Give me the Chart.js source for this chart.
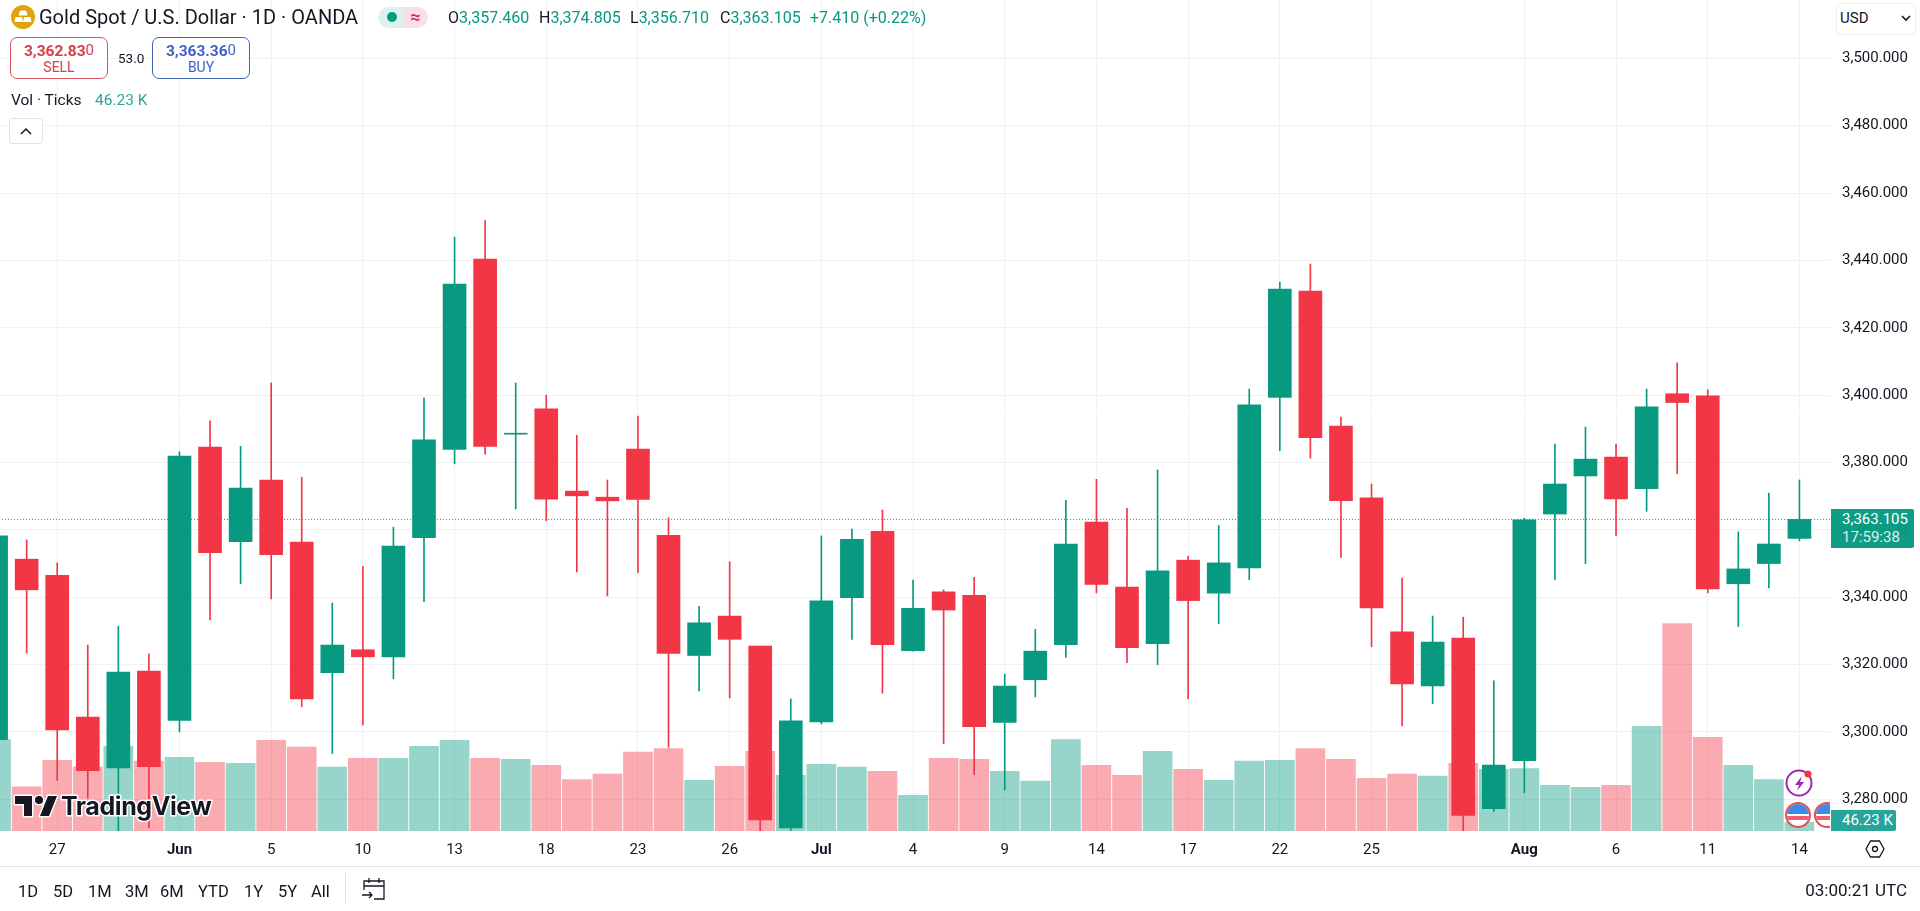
<!DOCTYPE html>
<html>
<head>
<meta charset="utf-8">
<title>Gold Spot / U.S. Dollar</title>
<script src="https://cdn.jsdelivr.net/npm/chart.js@4"></script>
<style>
  html, body { margin: 0; padding: 0; background: #fff; overflow: hidden; }
  body { width: 1920px; height: 911px; position: relative; font-family: Roboto, sans-serif; color: #131722; }
  #wrap { position: absolute; left: 0; top: 0; width: 1920px; height: 911px; }
  .abs { position: absolute; white-space: nowrap; }
  .up { color: #089981; }
  .trade { position: absolute; top: 37px; height: 40px; width: 96px; border: 1px solid; border-radius: 7px; text-align: center; background: #fff; }
  .trade b { display: block; font-size: 15.5px; line-height: 16px; margin-top: 4px; }
  .trade b span { font-weight: 400; font-size: 15px; vertical-align: 1px; }
  .trade i { display: block; font-style: normal; font-size: 14px; line-height: 16px; margin-top: 0; }
  .sell { left: 10px; border-color: #d9505f; color: #d63f4e; }
  .buy { left: 152px; border-color: #3d66ad; color: #3f5fc8; }
  .range span { position: absolute; top: 0; }
  .ohlc { top: 8px; font-size: 16px; line-height: 19px; }
</style>
</head>
<body>
<div id="wrap"><canvas id="chart" width="1920" height="911"></canvas></div>

<!-- legend block -->
<svg class="abs" style="left:11px;top:5px" width="24" height="24" viewBox="0 0 24 24">
  <circle cx="12" cy="12" r="12" fill="#dfa30e"/>
  <path d="M9 5.500h6l1.500 5h-9zM4.500 12h6.500l1 5H3.500zM13 12h6.500l1 5H12z" fill="#fff"/>
</svg>
<div class="abs" style="left:39px;top:6px;font-size:20px;line-height:23px">Gold Spot / U.S. Dollar · 1D · OANDA</div>
<div class="abs" style="left:378px;top:7px;width:25px;height:21px;background:#dcf2ee;border-radius:11px 0 0 11px"></div>
<div class="abs" style="left:403px;top:7px;width:25px;height:21px;background:#fbdfe6;border-radius:0 11px 11px 0;color:#e0245e;font-size:18px;line-height:20px;text-align:center;font-weight:700">≈</div>
<div class="abs" style="left:387px;top:12px;width:10px;height:10px;background:#089981;border-radius:50%"></div>
<div class="abs ohlc" style="left:448px">O<span class="up">3,357.460</span></div>
<div class="abs ohlc" style="left:539px">H<span class="up">3,374.805</span></div>
<div class="abs ohlc" style="left:630px">L<span class="up">3,356.710</span></div>
<div class="abs ohlc" style="left:720px">C<span class="up">3,363.105</span></div>
<div class="abs ohlc up" style="left:810px">+7.410 (+0.22%)</div>

<div class="trade sell"><b>3,362.83<span>0</span></b><i>SELL</i></div>
<div class="abs" style="left:118px;top:50px;font-size:13.5px;line-height:16px">53.0</div>
<div class="trade buy"><b>3,363.36<span>0</span></b><i>BUY</i></div>

<div class="abs" style="left:11px;top:91px;font-size:15.5px;line-height:18px">Vol · Ticks</div>
<div class="abs up" style="left:95px;top:91px;font-size:15.5px;line-height:18px;opacity:.85">46.23 K</div>
<div class="abs" style="left:9px;top:118px;width:32px;height:24px;border:1px solid #e0e3eb;border-radius:3px;background:#fff">
  <svg width="32" height="24"><path d="M11 15l5-5 5 5" fill="none" stroke="#131722" stroke-width="1.5"/></svg>
</div>

<!-- currency select -->
<div class="abs" style="left:1836px;top:3px;width:78px;height:30px;border:1px solid #eceef2;border-radius:5px;background:#fff"></div>
<div class="abs" style="left:1840px;top:9px;font-size:15px;line-height:18px">USD</div>
<svg class="abs" style="left:1901px;top:15px" width="10" height="7"><path d="M1 1l4 4 4-4" fill="none" stroke="#131722" stroke-width="1.6"/></svg>

<!-- last price and volume tags -->
<div class="abs" style="left:1831px;top:509px;width:83px;height:39px;background:#089981;border-radius:0 2px 2px 0;color:#fff;font-size:15px;line-height:18px;box-sizing:border-box;padding:1px 0 0 11px;opacity:.97">3,363.105<br><span style="opacity:.85">17:59:38</span></div>
<div class="abs" style="left:1831px;top:810px;width:65px;height:21px;background:#26a69a;border-radius:0 2px 2px 0;color:#fff;font-size:15px;line-height:21px;padding-left:11px;box-sizing:border-box">46.23 K</div>

<!-- event markers -->
<svg class="abs" style="left:1784px;top:768px" width="46" height="62" viewBox="0 0 46 62">
  <circle cx="15" cy="15" r="12.500" fill="#fff" stroke="#9c27b0" stroke-width="2"/>
  <path d="M18 8l-7 9h4l-2 6 7-9h-4z" fill="#9c27b0"/>
  <circle cx="24" cy="6" r="3.500" fill="#f23645"/>
  <defs>
    <clipPath id="flag1"><circle cx="14" cy="47" r="11"/></clipPath>
    <clipPath id="flag2"><circle cx="43" cy="47" r="11"/></clipPath>
  </defs>
  <g clip-path="url(#flag1)"><rect x="2" y="36" width="24" height="22" fill="#fff"/><rect x="2" y="36" width="24" height="10" fill="#3d8be8"/><rect x="2" y="48" width="24" height="4" fill="#f0606a"/></g>
  <circle cx="14" cy="47" r="12" fill="none" stroke="#e2505c" stroke-width="2"/>
  <g clip-path="url(#flag2)"><rect x="31" y="36" width="24" height="22" fill="#fff"/><rect x="31" y="36" width="24" height="10" fill="#3d8be8"/><rect x="31" y="48" width="24" height="4" fill="#f0606a"/></g>
  <circle cx="43" cy="47" r="12" fill="none" stroke="#e2505c" stroke-width="2"/>
</svg>

<!-- watermark -->
<svg class="abs" style="left:12px;top:790px" width="210" height="32" viewBox="0 0 210 32">
  <g stroke="#fff" stroke-width="3" paint-order="stroke" stroke-linejoin="round">
    <path d="M3 6h17v20h-8V14H3z" fill="#131722"/>
    <circle cx="27" cy="10" r="4" fill="#131722"/>
    <path d="M36 6h9l-8 20h-9z" fill="#131722"/>
    <text x="49" y="25" font-family="Inter, Roboto, sans-serif" font-weight="700" font-size="25" letter-spacing="-.4" fill="#131722">TradingView</text>
  </g>
</svg>

<!-- bottom bar -->
<div class="abs" style="left:0;top:866px;width:1920px;height:1px;background:#e0e3eb"></div>
<div class="abs range" style="left:0;top:883px;width:345px;height:18px;font-size:16.5px;line-height:18px">
  <span style="left:18px">1D</span><span style="left:53px">5D</span><span style="left:88px">1M</span><span style="left:125px">3M</span><span style="left:160px">6M</span><span style="left:198px">YTD</span><span style="left:244px">1Y</span><span style="left:278px">5Y</span><span style="left:311px">All</span>
</div>
<div class="abs" style="left:345px;top:873px;width:1px;height:30px;background:#e0e3eb"></div>
<svg class="abs" style="left:361px;top:877px" width="26" height="25" viewBox="0 0 26 25">
  <path d="M3 13V4h20v18H13M3 9h20M8 1v5M18 1v5M1 18h10M8 15l3 3-3 3" fill="none" stroke="#131722" stroke-width="1.300"/>
</svg>
<div class="abs" style="right:13px;top:880px;font-size:17px;line-height:20px">03:00:21 UTC</div>
<svg class="abs" style="left:1865px;top:839px" width="20" height="20" viewBox="0 0 20 20">
  <path d="M5.500 2h9L19 10l-4.500 8h-9L1 10z" fill="none" stroke="#131722" stroke-width="1.300"/>
  <circle cx="10" cy="10" r="2.500" fill="none" stroke="#131722" stroke-width="1.300"/>
</svg>

<script>
// Daily bars
const categories = ['May 23','May 26','May 27','May 28','May 29','May 30','Jun 2','Jun 3','Jun 4','Jun 5','Jun 6','Jun 9','Jun 10','Jun 11','Jun 12','Jun 13','Jun 16','Jun 17','Jun 18','Jun 19','Jun 20','Jun 23','Jun 24','Jun 25','Jun 26','Jun 27','Jun 30','Jul 1','Jul 2','Jul 3','Jul 4','Jul 7','Jul 8','Jul 9','Jul 10','Jul 11','Jul 14','Jul 15','Jul 16','Jul 17','Jul 18','Jul 21','Jul 22','Jul 23','Jul 24','Jul 25','Jul 28','Jul 29','Jul 30','Jul 31','Aug 1','Aug 4','Aug 5','Aug 6','Aug 7','Aug 8','Aug 11','Aug 12','Aug 13','Aug 14'];
const opens = [3297.7,3351.3,3346.5,3304.4,3289.3,3318.1,3303.4,3384.6,3356.5,3374.8,3356.4,3317.6,3324.4,3322.3,3357.7,3383.9,3440.4,3388.4,3395.9,3371.5,3369.7,3384,3358.4,3322.7,3334.4,3325.5,3271.5,3303,3339.9,3359.6,3324.1,3341.6,3340.6,3302.8,3315.5,3325.9,3362.3,3343,3326.2,3351,3341.2,3348.7,3399.3,3430.9,3390.8,3369.5,3329.7,3313.7,3327.9,3277.2,3291.5,3364.7,3376,3381.6,3372.2,3400.4,3399.8,3344,3350,3357.46];
const highs = [3358.6,3357,3350.2,3325.8,3331.4,3323.2,3383.2,3392.4,3384.8,3403.6,3375.6,3338.3,3349.2,3360.8,3399.2,3446.9,3451.8,3403.6,3400,3388.1,3374.8,3393.8,3363.6,3337.3,3350.5,3325.5,3309.8,3358.2,3360.2,3365.9,3345.1,3342.2,3345.9,3317.2,3330.5,3368.8,3375,3366.4,3377.8,3352.2,3361.3,3401.8,3433.5,3438.9,3393.5,3373.6,3345.7,3334.4,3334.1,3315.2,3363.4,3385.5,3390.5,3385.5,3401.8,3409.6,3401.6,3359.4,3370.9,3374.805];
const lows = [3296,3323.4,3285.6,3280.4,3270,3271.5,3300,3333.3,3344,3339.5,3307.5,3293.6,3302.1,3315.8,3338.7,3379.6,3382.5,3366.2,3362.7,3347.5,3340.4,3347.3,3295.5,3312.2,3310.1,3268,3270,3302.4,3327.5,3311.5,3324,3296.5,3287.3,3282.8,3310.4,3322.1,3341.3,3320.6,3320,3309.8,3332.1,3345.2,3383.5,3381.3,3351.8,3325.3,3301.8,3308.4,3268,3276.4,3282,3345.2,3350,3358.3,3365.5,3376.7,3341.3,3331.3,3342.8,3356.71];
const closes = [3358.2,3342.2,3300.6,3288.5,3317.8,3289.7,3381.9,3353.2,3372.4,3352.6,3309.8,3325.8,3322.3,3355.2,3386.7,3433,3384.8,3388.4,3369.1,3370.1,3368.6,3369,3323.3,3332.4,3327.5,3273.9,3303.3,3338.9,3357.2,3325.9,3336.7,3336.2,3301.6,3313.6,3324,3355.8,3343.8,3325,3347.8,3339,3350.2,3397.1,3431.5,3387.4,3368.7,3336.8,3314.3,3326.7,3275.2,3290.2,3363,3373.6,3381,3369.2,3396.5,3397.8,3342.5,3348.4,3355.8,3363.105];
const volumes = [486,234,375,341,449,371,391,365,360,482,445,339,386,386,449,482,386,380,349,273,302,419,438,269,343,423,295,354,339,317,189,386,380,317,265,486,349,295,423,328,269,371,375,438,380,280,302,291,360,328,332,243,232,243,556,1102,497,349,273,46.23];
const lastPrice = 3363.105;

const xTickDates = ['May 27','Jun 2','Jun 5','Jun 10','Jun 13','Jun 18','Jun 23','Jun 26','Jul 1','Jul 4','Jul 9','Jul 14','Jul 17','Jul 22','Jul 25','Aug 1','Aug 6','Aug 11','Aug 14'];
const xTickLabels = ['27','Jun','5','10','13','18','23','26','Jul','4','9','14','17','22','25','Aug','6','11','14'];
const monthLabels = ['Jun','Jul','Aug'];

const GREEN = '#089981';
const RED = '#f23645';
const barColor = categories.map((c, i) => closes[i] >= opens[i] ? GREEN : RED);
const volColor = categories.map((c, i) => closes[i] >= opens[i] ? 'rgba(8,153,129,0.42)' : 'rgba(242,54,69,0.42)');
const xTickIndex = xTickDates.map(d => categories.indexOf(d));

// chart.js pads the edge labels by default, the pane has to run to the canvas edge
function noPadding(scale) {
  scale.paddingLeft = 0;
  scale.paddingRight = 0;
  scale.paddingTop = 0;
  scale.paddingBottom = 0;
}

new Chart(document.getElementById('chart'), {
  data: {
    datasets: [
      {
        type: 'line', data: [{x: 0, y: lastPrice}, {x: 60, y: lastPrice}], order: 0,
        borderColor: GREEN, borderWidth: 1, borderDash: [1, 2], pointRadius: 0, yAxisID: 'y', xAxisID: 'x'
      },
      {
        type: 'bar', grouped: false, order: 1, yAxisID: 'y', xAxisID: 'x',
        data: categories.map((c, i) => ({x: i, y: [opens[i], closes[i]]})),
        backgroundColor: barColor, barThickness: 23, minBarLength: 1, borderWidth: 0
      },
      {
        type: 'bar', grouped: false, order: 2, yAxisID: 'y', xAxisID: 'x',
        data: categories.map((c, i) => ({x: i, y: [lows[i], highs[i]]})),
        backgroundColor: barColor, barThickness: 1, borderWidth: 0
      },
      {
        type: 'bar', grouped: false, order: 3, yAxisID: 'y1', xAxisID: 'x',
        data: categories.map((c, i) => ({x: i, y: volumes[i]})),
        backgroundColor: volColor, barThickness: 29, borderWidth: 0
      }
    ]
  },
  options: {
    responsive: false,
    animation: false,
    layout: { padding: { left: 0, right: 0, top: 0, bottom: 45 } },
    plugins: { legend: { display: false }, tooltip: { enabled: false } },
    scales: {
      x: {
        type: 'linear', min: 0.128, max: 60, offset: false,
        afterBuildTicks: scale => { scale.ticks = xTickIndex.map(v => ({value: v})); },
        afterFit: scale => { scale.height = 35; noPadding(scale); },
        grid: { color: '#eff1f5', drawTicks: false, offset: false },
        border: { display: false },
        ticks: {
          autoSkip: false, maxRotation: 0, padding: 10, color: '#131722',
          font: ctx => ({ family: 'Roboto', size: 15, weight: monthLabels.includes(xTickLabels[xTickIndex.indexOf(ctx.tick && ctx.tick.value)]) ? 'bold' : 'normal' }),
          callback: v => xTickLabels[xTickIndex.indexOf(v)]
        }
      },
      y: {
        type: 'linear', position: 'right', min: 3270.6, max: 3517.3,
        afterFit: scale => { scale.width = 90; noPadding(scale); },
        grid: { color: '#eff1f5', drawTicks: false },
        border: { display: false },
        ticks: {
          stepSize: 20, includeBounds: false, padding: 12, color: '#131722',
          font: { family: 'Roboto', size: 15 },
          callback: v => v.toLocaleString('en-US', { minimumFractionDigits: 3, maximumFractionDigits: 3 })
        }
      },
      y1: { type: 'linear', display: false, min: 0, max: 4413 }
    }
  }
});
</script>
</body>
</html>
